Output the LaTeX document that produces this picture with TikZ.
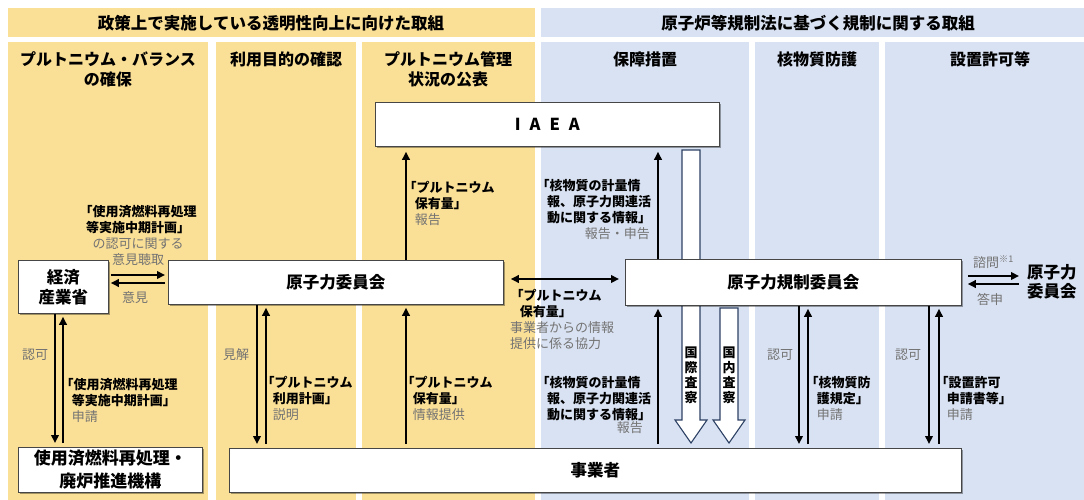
\documentclass[tikz,border=0pt]{standalone}
\usepackage{fontspec}
\setmainfont{Noto Sans CJK JP}
\usetikzlibrary{arrows.meta,shadows}
\definecolor{ylw}{RGB}{250,223,150}
\definecolor{blu}{RGB}{217,226,242}
\definecolor{gtxt}{RGB}{115,115,115}
\definecolor{navy}{RGB}{45,65,100}
\definecolor{bord}{RGB}{70,70,70}
\begin{document}
\begin{tikzpicture}[x=1pt,y=-1pt,
  box/.style={draw=bord, line width=0.8pt, fill=white, inner sep=0pt, anchor=north west, align=center,
     font=\fontsize{16.5}{20}\selectfont\bfseries,
     drop shadow={shadow xshift=2pt, shadow yshift=-2pt, opacity=0.35, fill=black}},
  hdr/.style={font=\fontsize{16.5}{20}\selectfont\bfseries, inner sep=0pt},
  colh/.style={font=\fontsize{16}{20}\selectfont\bfseries, inner sep=0pt, align=center, anchor=north},
  lab/.style={inner sep=0pt, align=left, anchor=north west, font=\fontsize{13}{16}\selectfont\bfseries},
  gray/.style={inner sep=0pt, text=gtxt, font=\fontsize{13}{16}\selectfont},
  arr/.style={line width=2.4pt, -{Triangle[length=8pt,width=7.5pt]}},
  dbl/.style={line width=2.4pt, {Triangle[length=8pt,width=7.5pt]}-{Triangle[length=8pt,width=7.5pt]}},
  hollow/.style={draw=navy, line width=1.1pt, fill=white},
  vtxt/.style={font=\fontsize{13}{15}\selectfont\bfseries, align=center, inner sep=0pt}
]
\useasboundingbox (0,0) rectangle (1084,500);
% panels
\fill[ylw] (8,8) rectangle (535,37);
\fill[blu] (541,8) rectangle (1084,37);
\fill[ylw] (8,42) rectangle (208,500);
\fill[ylw] (216,42) rectangle (356,500);
\fill[ylw] (362,42) rectangle (535,500);
\fill[blu] (541,42) rectangle (749,500);
\fill[blu] (755,42) rectangle (879,500);
\fill[blu] (885,42) rectangle (1084,500);
% headers
\node[hdr] (h1) at (271,23) {政策上で実施している透明性向上に向けた取組};
\node[hdr] (h2) at (818,23) {原子炉等規制法に基づく規制に関する取組};
\node[colh] (c1) at (108,51.8) {プルトニウム・バランス\\の確保};
\node[colh] (c2) at (286,51.8) {利用目的の確認};
\node[colh] (c3) at (448,51.8) {プルトニウム管理\\状況の公表};
\node[colh] (c4) at (645,51.8) {保障措置};
\node[colh] (c5) at (817,51.8) {核物質防護};
\node[colh] (c6) at (990,51.8) {設置許可等};
% hollow arrow behind NRA box
\draw[hollow] (682,150) -- (682,420) -- (675,420) -- (691,443) -- (707,420) -- (700,420) -- (700,150) -- cycle;
\draw[hollow] (720,308) -- (720,420) -- (713,420) -- (729,443) -- (745,420) -- (738,420) -- (738,308) -- cycle;
\node[vtxt] (kokusai) at (691,375) {国\\際\\査\\察};
\node[vtxt] (kokunai) at (729,375) {国\\内\\査\\察};
% boxes
\node[box, minimum width=344pt, minimum height=44pt] (iaea) at (375,102) {I\hspace{9pt}A\hspace{9pt}E\hspace{9pt}A};
\node[box, minimum width=90pt, minimum height=53pt] (meti) at (18,260) {経済\\産業省};
\node[box, minimum width=335pt, minimum height=44pt] (aec) at (168,260) {原子力委員会};
\node[box, minimum width=336pt, minimum height=46pt] (nra) at (625,259) {原子力規制委員会};
\node[box, minimum width=184pt, minimum height=45pt, font=\fontsize{17}{23}\selectfont\bfseries] (jaea) at (18,447) {使用済燃料再処理・\\廃炉推進機構};
\node[box, minimum width=732pt, minimum height=44pt] (ops) at (229,448) {事業者};
\node[inner sep=0pt, anchor=north west, align=left, font=\fontsize{16.5}{18.5}\selectfont\bfseries] (aec2) at (1027,264.5) {原子力\\委員会};
% arrows
\draw[arr, shorten <=2pt, shorten >=3pt] (meti.east |- 0,275) -- (aec.west |- 0,275);
\draw[arr, shorten <=3pt, shorten >=2pt] (aec.west |- 0,283) -- (meti.east |- 0,283);
\draw[dbl, shorten <=7pt, shorten >=6pt] (aec.east |- 0,279) -- (nra.west |- 0,279);
\draw[arr, shorten <=6pt, shorten >=8pt] (nra.east |- 0,276) -- (aec2.west |- 0,276);
\draw[arr, shorten <=8pt, shorten >=6pt] (aec2.west |- 0,284) -- (nra.east |- 0,284);
\draw[arr, shorten >=4pt] (meti.south -| 55,0) -- (jaea.north -| 55,0);
\draw[arr, shorten <=4pt, shorten >=3pt] (jaea.north -| 63,0) -- (meti.south -| 63,0);
\draw[arr, shorten >=4pt] (aec.south -| 257,0) -- (ops.north -| 257,0);
\draw[arr, shorten <=4pt, shorten >=3pt] (ops.north -| 266,0) -- (aec.south -| 266,0);
\draw[arr, shorten >=5pt] (aec.north -| 406,0) -- (iaea.south -| 406,0);
\draw[arr, shorten <=4pt, shorten >=3pt] (ops.north -| 406,0) -- (aec.south -| 406,0);
\draw[arr, shorten >=5pt] (nra.north -| 658,0) -- (iaea.south -| 658,0);
\draw[arr, shorten <=4pt, shorten >=3pt] (ops.north -| 658,0) -- (nra.south -| 658,0);
\draw[arr, shorten >=4pt] (nra.south -| 799,0) -- (ops.north -| 799,0);
\draw[arr, shorten <=4pt, shorten >=3pt] (ops.north -| 808,0) -- (nra.south -| 808,0);
\draw[arr, shorten >=4pt] (nra.south -| 929,0) -- (ops.north -| 929,0);
\draw[arr, shorten <=4pt, shorten >=3pt] (ops.north -| 939,0) -- (nra.south -| 939,0);
% labels
\node[lab, align=center, anchor=north] (lmeti) at (138,205) {「使用済燃料再処理\\等実施中期計画」\\{\color{gtxt}\mdseries の認可に関する}\\{\color{gtxt}\mdseries 意見聴取}};
\node[gray] (liken) at (135,298) {意見};
\node[gray] (lninka1) at (35,355) {認可};
\node[lab] (lc1) at (67,378) {\hspace*{-0.5em}「使用済燃料再処理\\\hspace*{0.35em}等実施中期計画」\\\hspace*{0.35em}{\color{gtxt}\mdseries 申請}};
\node[gray] (lkenkai) at (236,355) {見解};
\node[lab] (lc2) at (268,376) {\hspace*{-0.5em}「プルトニウム\\\hspace*{0.35em}利用計画」\\\hspace*{0.35em}{\color{gtxt}\mdseries 説明}};
\node[lab] (lc3u) at (410,181) {\hspace*{-0.5em}「プルトニウム\\\hspace*{0.35em}保有量」\\\hspace*{0.35em}{\color{gtxt}\mdseries 報告}};
\node[lab] (lc3l) at (408,376) {\hspace*{-0.5em}「プルトニウム\\\hspace*{0.35em}保有量」\\\hspace*{0.35em}{\color{gtxt}\mdseries 情報提供}};
\node[lab] (lmid) at (517,289) {\hspace*{-0.5em}「プルトニウム\\\hspace*{0.2em}保有量」\\\hspace*{-7pt}{\color{gtxt}\mdseries 事業者からの情報}\\\hspace*{-7pt}{\color{gtxt}\mdseries 提供に係る協力}};
\node[lab] (lc4u) at (543,179) {\hspace*{-0.5em}「核物質の計量情\\\hspace*{0.3em}報、原子力関連活\\\hspace*{0.3em}動に関する情報」};
\node[gray, anchor=east] (lc4ug) at (650,234) {報告・申告};
\node[lab] (lc4l) at (543,376) {\hspace*{-0.5em}「核物質の計量情\\\hspace*{0.3em}報、原子力関連活\\\hspace*{0.3em}動に関する情報」};
\node[gray, anchor=east] (lc4lg) at (643,428) {報告};
\node[gray] (lninka2) at (780,355) {認可};
\node[lab] (lc5) at (812,376) {\hspace*{-0.5em}「核物質防\\\hspace*{0.35em}護規定」\\\hspace*{0.35em}{\color{gtxt}\mdseries 申請}};
\node[gray] (lninka3) at (908,355) {認可};
\node[lab] (lc6) at (942,376) {\hspace*{-0.5em}「設置許可\\\hspace*{0.35em}申請書等」\\\hspace*{0.35em}{\color{gtxt}\mdseries 申請}};
\node[gray, anchor=base west] (lshimon) at (973,267) {諮問\textsuperscript{※1}};
\node[gray] (ltoushin) at (990,299) {答申};
\end{tikzpicture}
\end{document}
